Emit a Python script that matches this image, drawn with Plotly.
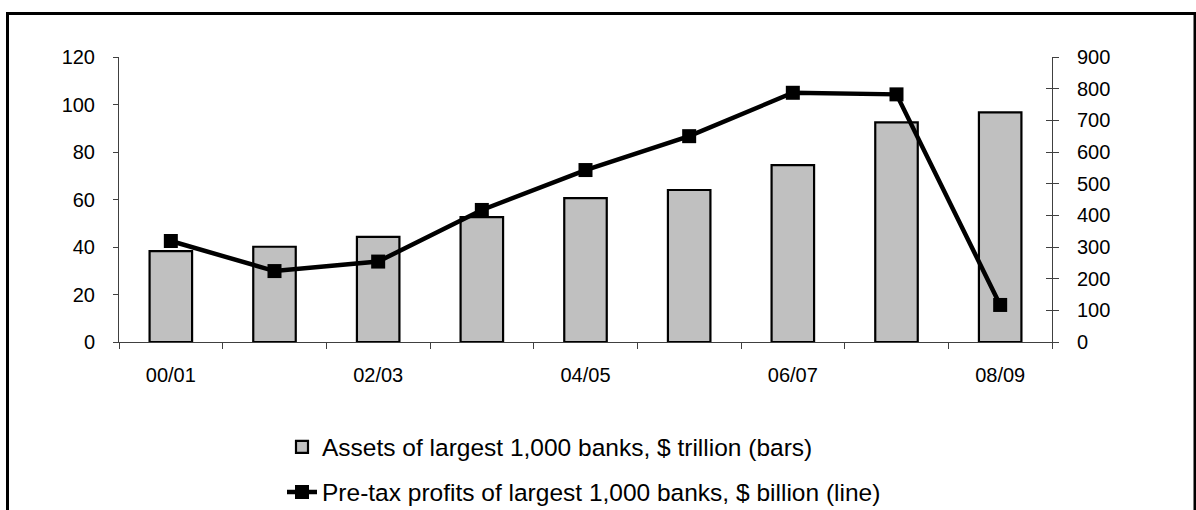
import plotly.graph_objects as go

categories = ["00/01", "01/02", "02/03", "03/04", "04/05", "05/06", "06/07", "07/08", "08/09"]
tick_labels = ["00/01", "", "02/03", "", "04/05", "", "06/07", "", "08/09"]
assets_trillion = [38.3, 40.1, 44.3, 52.6, 60.6, 64.0, 74.5, 92.5, 96.7]
profits_billion = [319, 224, 254, 417, 543, 650, 787, 782, 117]

W, H = 1196, 510
L, R, T, B = 119, 144, 57, 168
pw, ph = W - L - R, H - T - B

def px(x):
    return (x - L) / pw

def py(y):
    return (H - B - y) / ph

FONT = "Liberation Sans, Arial, sans-serif"

fig = go.Figure()
fig.add_trace(go.Bar(
    x=categories, y=assets_trillion,
    name="Assets of largest 1,000 banks, $ trillion (bars)",
    marker=dict(color="#C0C0C0", line=dict(color="black", width=2.2)),
    width=0.41, yaxis="y", legend="legend",
))
fig.add_trace(go.Scatter(
    x=categories, y=profits_billion,
    name="Pre-tax profits of largest 1,000 banks, $ billion (line)",
    mode="lines+markers",
    line=dict(color="black", width=4.5),
    marker=dict(symbol="square", size=14, color="black"),
    yaxis="y2", legend="legend2",
))
# empty trace to keep the inner-tick overlay axis rendered
fig.add_trace(go.Scatter(x=[None], y=[None], yaxis="y3", showlegend=False, hoverinfo="skip"))

fig.update_layout(
    width=W, height=H,
    margin=dict(l=L, r=R, t=T, b=B, autoexpand=False),
    paper_bgcolor="white", plot_bgcolor="white",
    font=dict(family=FONT, size=20, color="black"),
    xaxis=dict(
        type="category", categoryorder="array", categoryarray=categories,
        range=[-0.5, 8.5],
        tickmode="array", tickvals=categories, ticktext=tick_labels,
        tickson="boundaries", ticks="outside", ticklen=6, tickcolor="#404040",
        showline=True, linecolor="#404040", linewidth=1,
        showgrid=False, zeroline=False, ticklabelstandoff=15,
    ),
    yaxis=dict(
        range=[0, 120], dtick=20, tick0=0,
        ticks="outside", ticklen=5, tickcolor="#404040",
        showline=True, linecolor="#404040", linewidth=1,
        showgrid=False, zeroline=False, ticklabelstandoff=14,
    ),
    yaxis2=dict(
        range=[0, 900], dtick=100, tick0=0, overlaying="y", side="right",
        ticks="outside", ticklen=6, tickcolor="#404040",
        showline=True, linecolor="#404040", linewidth=1,
        showgrid=False, zeroline=False, ticklabelstandoff=14,
    ),
    yaxis3=dict(
        range=[0, 900], dtick=100, tick0=0, overlaying="y", side="right",
        ticks="inside", ticklen=6, tickcolor="#404040",
        showline=False, showticklabels=False,
        showgrid=False, zeroline=False,
    ),
    legend=dict(
        x=px(282), y=py(447), xanchor="left", yanchor="middle",
        bgcolor="rgba(0,0,0,0)", font=dict(size=24.5),
    ),
    legend2=dict(
        x=px(282), y=py(492), xanchor="left", yanchor="middle",
        bgcolor="rgba(0,0,0,0)", font=dict(size=24.5),
    ),
    showlegend=True,
    shapes=[dict(
        type="rect", xref="paper", yref="paper",
        x0=px(7.5), x1=px(1195), y0=py(560), y1=py(13.5),
        line=dict(color="black", width=3), fillcolor="rgba(0,0,0,0)", layer="below",
    )],
)

fig.write_html("out.html")
